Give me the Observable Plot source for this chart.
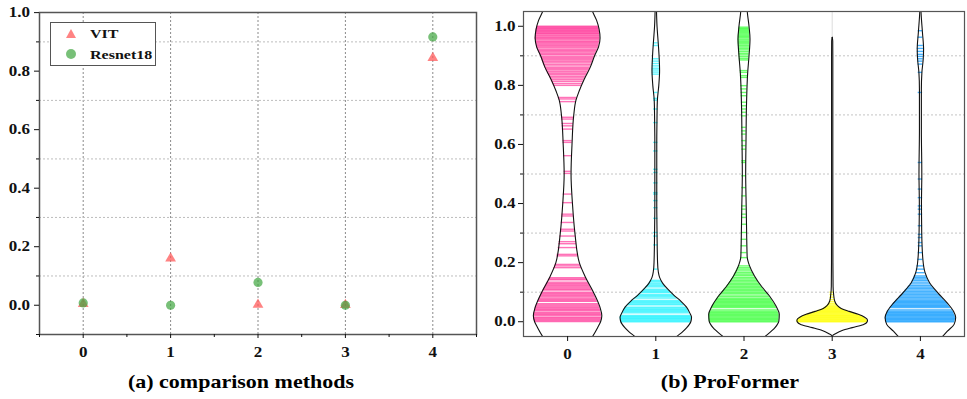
<!DOCTYPE html>
<html>
<head>
<meta charset="utf-8">
<script src="https://cdn.jsdelivr.net/npm/d3@7"></script>
<script src="https://cdn.jsdelivr.net/npm/@observablehq/plot@0.6"></script>
<style>
  html, body { margin: 0; padding: 0; background: #fff; }
  #wrap { position: relative; width: 967px; height: 399px; overflow: hidden; font-family: "Liberation Serif", "Times New Roman", serif; }
  .panel { position: absolute; top: 0; height: 399px; }
  #left { left: 0; width: 480px; }
  #right { left: 480px; width: 487px; }
  .panel svg { display: block; overflow: visible; }
  .cap { position: absolute; top: 365px; left: 0; height: 34px; line-height: 34px; font-weight: bold; font-size: 22px; text-align: center; box-sizing: border-box; color: #000; }
  .cap span { display: inline-block; transform: scaleY(0.84); }
  #legend { position: absolute; left: 50px; top: 22px; width: 106px; height: 44px; box-sizing: border-box; border: 1px solid #555; background: #fff; }
  #legend .tri { position: absolute; left: 15px; top: 5.5px; width: 0; height: 0; border-left: 5.7px solid transparent; border-right: 5.7px solid transparent; border-bottom: 9px solid rgba(255, 90, 90, 0.75); }
  #legend .cir { position: absolute; left: 14.7px; top: 25.5px; width: 10px; height: 10px; border-radius: 50%; background: rgba(63, 165, 63, 0.7); }
  #legend .lab { position: absolute; left: 39px; height: 16px; line-height: 16px; font-size: 16px; font-weight: bold; color: #111; transform: scaleY(0.84); white-space: nowrap; }
</style>
</head>
<body>
<div id="wrap">
  <div id="left" class="panel"></div>
  <div id="right" class="panel"></div>
</div>
<script>
// ---------- data ----------
const categories = [0, 1, 2, 3, 4];
const xTickLabels = ["0", "1", "2", "3", "4"];
const yMajorTicks = [0, 0.2, 0.4, 0.6, 0.8, 1.0];
const yMinorTicksLeft = [-0.1, 0.1, 0.3, 0.5, 0.7, 0.9];
const yMinorTicksRight = [0.1, 0.3, 0.5, 0.7, 0.9];
const xMinorTicks = [-0.5, 0.5, 1.5, 2.5, 3.5, 4.5];

const seriesNames = ["VIT", "Resnet18"];
const vitValues = [0.005, 0.16, 0.002, 0.001, 0.845];
const resnetValues = [0.008, 0.0, 0.078, 0.0, 0.917];

const violinColors = ["#ff3d9d", "#22f2ff", "#33ff33", "#ffff00", "#0096ff"];

// violin half-width profiles: [value, half width in x-axis units]
const profile0 = [[1.08,0.249],[1.05,0.283],[1.02,0.329],[0.99,0.357],[0.96,0.368],[0.93,0.351],[0.90,0.306],[0.86,0.255],[0.82,0.187],[0.78,0.130],[0.75,0.095],[0.70,0.070],[0.60,0.050],[0.50,0.039],[0.40,0.055],[0.30,0.083],[0.20,0.133],[0.15,0.204],[0.10,0.293],[0.05,0.366],[0.02,0.388],[0.00,0.374],[-0.02,0.340],[-0.05,0.283],[-0.08,0.215]];
const profile1 = [[1.08,0.006],[1.05,0.008],[1.0,0.014],[0.95,0.026],[0.90,0.037],[0.85,0.043],[0.80,0.034],[0.75,0.018],[0.70,0.014],[0.60,0.011],[0.50,0.011],[0.40,0.011],[0.30,0.014],[0.20,0.020],[0.17,0.028],[0.15,0.043],[0.13,0.079],[0.11,0.136],[0.09,0.204],[0.07,0.283],[0.05,0.346],[0.03,0.385],[0.015,0.405],[0.0,0.397],[-0.02,0.351],[-0.035,0.300],[-0.05,0.238],[-0.08,0.136]];
const profile2 = [[1.08,0.032],[1.05,0.037],[1.0,0.057],[0.957,0.068],[0.90,0.057],[0.844,0.042],[0.73,0.028],[0.62,0.023],[0.50,0.019],[0.39,0.025],[0.28,0.031],[0.22,0.036],[0.19,0.062],[0.155,0.119],[0.12,0.198],[0.087,0.289],[0.053,0.363],[0.025,0.400],[0.002,0.395],[-0.02,0.351],[-0.048,0.246],[-0.08,0.113]];
const profile3 = [[0.963,0.0],[0.95,0.006],[0.9,0.007],[0.5,0.007],[0.2,0.008],[0.12,0.010],[0.09,0.017],[0.07,0.028],[0.055,0.057],[0.045,0.102],[0.035,0.193],[0.025,0.295],[0.015,0.368],[0.006,0.400],[0.0,0.397],[-0.01,0.351],[-0.02,0.227],[-0.03,0.113],[-0.04,0.042],[-0.047,0.006],[-0.06,0.0]];
const profile4 = [[1.08,0.005],[1.05,0.007],[0.98,0.023],[0.923,0.036],[0.889,0.032],[0.844,0.017],[0.787,0.011],[0.65,0.011],[0.5,0.016],[0.4,0.012],[0.3,0.015],[0.211,0.028],[0.166,0.053],[0.132,0.104],[0.098,0.198],[0.064,0.303],[0.036,0.374],[0.014,0.400],[-0.009,0.382],[-0.032,0.306],[-0.054,0.238],[-0.08,0.147]];

// individual observations drawn as stripes inside each violin
const stripes0 = [1.0,0.998,0.995,0.993,0.99,0.987,0.985,0.982,0.979,0.976,0.974,0.97,0.967,0.963,0.96,0.957,0.953,0.949,0.946,0.942,0.938,0.934,0.93,0.926,0.921,0.917,0.913,0.908,0.904,0.899,0.895,0.89,0.886,0.881,0.876,0.871,0.866,0.861,0.856,0.852,0.846,0.841,0.836,0.83,0.825,0.819,0.813,0.806,0.8,0.759,0.754,0.745,0.692,0.686,0.671,0.663,0.652,0.613,0.607,0.562,0.509,0.502,0.432,0.403,0.364,0.358,0.336,0.313,0.307,0.29,0.271,0.264,0.251,0.228,0.223,0.194,0.189,0.183,0.149,0.145,0.142,0.134,0.13,0.126,0.122,0.118,0.114,0.11,0.107,0.1,0.096,0.092,0.088,0.084,0.08,0.076,0.072,0.069,0.061,0.057,0.053,0.049,0.045,0.041,0.038,0.032,0.028,0.025,0.021,0.015,0.012,0.008,0.004,0.001];
const stripes1 = [0.944,0.935,0.89,0.882,0.874,0.866,0.858,0.852,0.845,0.838,0.776,0.756,0.75,0.72,0.674,0.607,0.578,0.516,0.505,0.47,0.437,0.432,0.41,0.386,0.35,0.302,0.29,0.26,0.178,0.14,0.136,0.131,0.127,0.122,0.118,0.11,0.106,0.102,0.099,0.092,0.088,0.084,0.08,0.072,0.068,0.064,0.06,0.057,0.049,0.045,0.041,0.038,0.034,0.03,0.021,0.018,0.015,0.012,0.009,0.006,0.003,0.0];
const stripes2 = [0.997,0.993,0.99,0.986,0.982,0.978,0.974,0.97,0.966,0.962,0.957,0.953,0.948,0.944,0.94,0.935,0.93,0.925,0.92,0.914,0.908,0.903,0.897,0.891,0.886,0.85,0.844,0.833,0.827,0.799,0.788,0.776,0.765,0.743,0.731,0.72,0.709,0.697,0.658,0.646,0.635,0.613,0.596,0.584,0.545,0.539,0.494,0.454,0.426,0.392,0.381,0.364,0.353,0.33,0.302,0.279,0.257,0.234,0.217,0.189,0.183,0.178,0.172,0.166,0.161,0.156,0.15,0.145,0.14,0.135,0.13,0.125,0.12,0.115,0.11,0.105,0.1,0.095,0.09,0.085,0.08,0.076,0.072,0.068,0.064,0.06,0.056,0.052,0.048,0.04,0.036,0.032,0.028,0.024,0.02,0.016,0.012,0.008,0.004,0.0];
const stripes3 = [0.1,0.092,0.083,0.075,0.068,0.062,0.057,0.053,0.05,0.047,0.044,0.041,0.038,0.035,0.032,0.029,0.026,0.023,0.02,0.017,0.014,0.011,0.008,0.005,0.002,0.0];
const stripes4 = [0.985,0.963,0.935,0.925,0.915,0.905,0.898,0.89,0.882,0.872,0.844,0.776,0.539,0.483,0.449,0.42,0.392,0.381,0.364,0.325,0.296,0.285,0.268,0.257,0.234,0.211,0.189,0.178,0.166,0.155,0.15,0.145,0.14,0.134,0.128,0.122,0.117,0.112,0.107,0.102,0.097,0.092,0.087,0.082,0.077,0.072,0.068,0.064,0.06,0.056,0.052,0.048,0.04,0.036,0.032,0.028,0.024,0.02,0.016,0.012,0.008,0.004,0.0];

// ---------- build tables ----------
const vitRows = categories.map((c, i) => ({x: c, y: vitValues[i]}));
const resRows = categories.map((c, i) => ({x: c, y: resnetValues[i]}));

const profiles = [profile0, profile1, profile2, profile3, profile4];
const stripeLists = [stripes0, stripes1, stripes2, stripes3, stripes4];

const outlineRows = profiles.flatMap((p, g) => p.map(([v, hw]) => ({group: g, v, xl: categories[g] - hw, xr: categories[g] + hw})));

function halfWidthAt(p, v) {
  for (let i = 0; i < p.length - 1; i++) {
    const [v0, h0] = p[i], [v1, h1] = p[i + 1];
    if (v <= v0 && v >= v1) {
      const t = (v0 - v) / (v0 - v1);
      return h0 + (h1 - h0) * t;
    }
  }
  return 0;
}
const stripeRows = stripeLists.flatMap((s, g) => s.map(v => {
  const hw = Math.max(halfWidthAt(profiles[g], v), 0.025);
  return {group: g, v, x1: categories[g] - hw, x2: categories[g] + hw, color: violinColors[g]};
}));

const fontFamily = "'Liberation Serif', 'Times New Roman', serif";
const fmt1 = d3.format(".1f");
const xFmt = d => xTickLabels[categories.indexOf(d)];

function squash(svg) {
  svg.querySelectorAll("text").forEach(t => {
    t.setAttribute("style", "font-family:'Liberation Serif','Times New Roman',serif;font-size:17px;font-weight:bold;fill:#111;");
    const tr = t.getAttribute("transform");
    if (tr) t.setAttribute("transform", tr + " scale(1,0.8)");
  });
}

// ---------- left panel ----------
const left = Plot.plot({
  width: 480, height: 365,
  marginLeft: 39, marginRight: 4, marginTop: 12, marginBottom: 31,
  style: {fontFamily, fontSize: "16px", fontWeight: "bold", color: "#111", background: "transparent"},
  x: {domain: [-0.5, 4.5], label: null},
  y: {domain: [-0.1, 1.0004], label: null},
  marks: [
    Plot.gridX({ticks: categories, stroke: "#8a8a8a", strokeOpacity: 1, strokeDasharray: "2,2"}),
    Plot.gridY({ticks: yMinorTicksRight, stroke: "#bdbdbd", strokeOpacity: 1, strokeDasharray: "2,2"}),
    Plot.dot(vitRows, {x: "x", y: "y", symbol: "triangle", r: 4, fill: "#ff5a5a", fillOpacity: 0.75}),
    Plot.dot(resRows, {x: "x", y: "y", r: 4.6, fill: "#3fa53f", fillOpacity: 0.7}),
    Plot.frame({stroke: "#555", strokeWidth: 1.5}),
    Plot.axisY({ticks: yMajorTicks, tickSize: 5, tickPadding: 4.5, tickFormat: fmt1, label: null}),
    Plot.axisY({ticks: yMinorTicksLeft, tickSize: 3, tickFormat: () => "", label: null}),
    Plot.axisX({ticks: categories, tickSize: 4, tickPadding: 9, tickFormat: xFmt, label: null}),
    Plot.axisX({ticks: xMinorTicks, tickSize: 3, tickFormat: () => "", label: null})
  ]
});
squash(left);
document.getElementById("left").appendChild(left);

// legend (HTML)
const lg = document.createElement("div");
lg.id = "legend";
lg.innerHTML = `<div class="tri"></div><span class="lab" style="top:2.8px">${seriesNames[0]}</span>` +
               `<div class="cir"></div><span class="lab" style="top:23.5px">${seriesNames[1]}</span>`;
document.getElementById("left").appendChild(lg);

const capL = document.createElement("div");
capL.className = "cap";
capL.style.width = "482px";
capL.innerHTML = "<span>(a) comparison methods</span>";
document.getElementById("left").appendChild(capL);

// ---------- right panel ----------
const right = Plot.plot({
  width: 487, height: 365,
  marginLeft: 43, marginRight: 3, marginTop: 11, marginBottom: 29,
  style: {fontFamily, fontSize: "16px", fontWeight: "bold", color: "#111", background: "transparent"},
  x: {domain: [-0.5, 4.5], label: null},
  y: {domain: [-0.05, 1.05], label: null},
  color: {type: "identity"},
  marks: [
    Plot.gridY({ticks: yMinorTicksRight, stroke: "#c4c4c4", strokeOpacity: 1, strokeDasharray: "2,2"}),
    Plot.gridX({ticks: categories, stroke: "#dcdcdc", strokeOpacity: 1}),
    Plot.areaX(outlineRows, {y: "v", x1: "xl", x2: "xr", z: "group", fill: "#fff", curve: "monotone-y", clip: true}),
    Plot.ruleY(stripeRows, {y: "v", x1: "x1", x2: "x2", stroke: "color", strokeWidth: 1.4, strokeOpacity: 0.72, clip: true}),
    Plot.line(outlineRows, {x: "xl", y: "v", z: "group", stroke: "#111", strokeWidth: 1.1, curve: "monotone-y", clip: true}),
    Plot.line(outlineRows, {x: "xr", y: "v", z: "group", stroke: "#111", strokeWidth: 1.1, curve: "monotone-y", clip: true}),
    Plot.frame({stroke: "#555", strokeWidth: 1.2}),
    Plot.axisY({ticks: yMajorTicks, tickSize: 5, tickPadding: 3, tickFormat: fmt1, label: null}),
    Plot.axisY({ticks: yMinorTicksRight, tickSize: 3, tickFormat: () => "", label: null}),
    Plot.axisX({ticks: categories, tickSize: 5, tickPadding: 8, tickFormat: xFmt, label: null})
  ]
});
squash(right);
document.getElementById("right").appendChild(right);

const capR = document.createElement("div");
capR.className = "cap";
capR.style.width = "487px";
capR.style.paddingLeft = "13px";
capR.innerHTML = "<span>(b) ProFormer</span>";
document.getElementById("right").appendChild(capR);
</script>
</body>
</html>
